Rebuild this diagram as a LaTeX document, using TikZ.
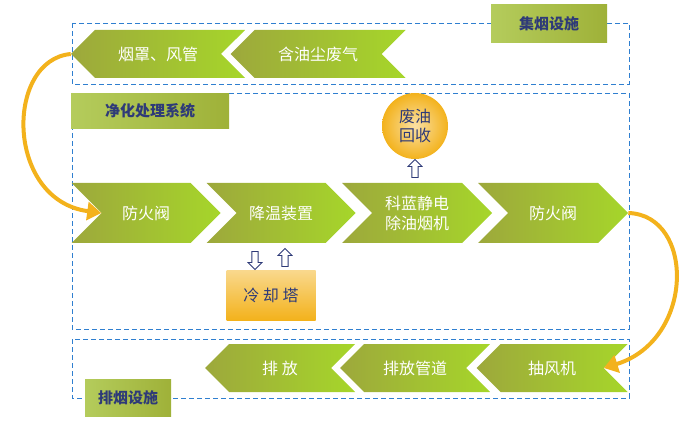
\documentclass[tikz,border=0pt]{standalone}
\usepackage{fontspec}
\setmainfont{Noto Sans CJK SC}
\usetikzlibrary{shapes.symbols,shapes.arrows,arrows.meta}
\definecolor{olive}{HTML}{9DA83C}
\definecolor{lime}{HTML}{A6D62A}
\definecolor{frame}{HTML}{2F7FD0}
\definecolor{ink}{HTML}{2E3A78}
\definecolor{gold}{HTML}{F3B21C}
\begin{document}
\begin{tikzpicture}[x=1pt,y=-1pt,
    stage/.style={signal,draw=none,minimum height=48pt,inner sep=0pt,
      font=\fontsize{16}{20}\selectfont,text=white,left color=olive,right color=lime},
    stageR/.style={stage,signal to=east,signal from=west},
    stageL/.style={stage,signal to=west,signal from=east},
    tag/.style={draw=none,font=\fontsize{15}{18}\selectfont\bfseries,text=ink,
      left color=lime!50!olive!80!white,right color=olive!80!lime,inner sep=0pt},
    zone/.style={draw=frame,thick,dash pattern=on 5pt off 3pt},
    hollow/.style={single arrow,draw=ink,thick,fill=white,minimum height=18pt,
      minimum width=14pt,single arrow head extend=3pt,inner sep=2pt}]
\useasboundingbox (0,0) rectangle (700,443);

% Zones
\draw[zone] (72,23) rectangle (629,84);
\draw[zone] (72,93) rectangle (629,329);
\draw[zone] (72,339) rectangle (629,398);

% Zone tags
\node[tag,minimum width=116pt,minimum height=38pt] (t1) at (549,24) {集烟设施};
\node[tag,minimum width=158pt,minimum height=35pt] (t2) at (150,111) {净化处理系统};
\node[tag,minimum width=86pt,minimum height=37pt] (t3) at (128,398) {排烟设施};

% Collecting
\node[stageL,minimum width=174pt] (hood) at (158,54) {烟罩、风管};
\node[stageL,minimum width=175pt] (gas) at (318,54) {含油尘废气};

% Purifying
\node[stageR,minimum width=149pt,minimum height=60pt] (v1) at (146,213) {防火阀};
\node[stageR,minimum width=149pt,minimum height=60pt] (cool) at (281,213) {降温装置};
\node[stageR,minimum width=150pt,minimum height=60pt,align=center] (esp) at (417,213) {科蓝静电\\除油烟机};
\node[stageR,minimum width=150pt,minimum height=60pt] (v2) at (553,213) {防火阀};
\node[circle,minimum size=66pt,inner sep=0pt,align=center,
  font=\fontsize{16}{19}\selectfont,text=ink,
  inner color=gold!40,outer color=gold] (oil) at (415,126) {废油\\回收};
\node[minimum width=89pt,minimum height=50pt,font=\fontsize{16}{20}\selectfont,text=ink,
  top color=gold!50,bottom color=gold] (tower) at (271,295) {冷\ 却\ 塔};

% Exhaust
\node[stageL,minimum width=150pt] (out) at (280,368) {排\ 放};
\node[stageL,minimum width=150pt] (pipe) at (415,368) {排放管道};
\node[stageL,minimum width=151pt] (fan) at (552,368) {抽风机};

% Hollow arrows
\node[hollow,shape border rotate=90] (up1) at (415,170) {};
\node[hollow,shape border rotate=270] (dn) at (255,259) {};
\node[hollow,shape border rotate=90] (up2) at (285,259) {};

% Yellow sweeps
\draw[gold,line width=4pt,-{Triangle[length=14pt,width=18pt]}]
  (hood.west) .. controls (5,60) and (5,200) .. (v1.west);
\draw[gold,line width=4pt,-{Triangle[length=14pt,width=18pt]}]
  (v2.east) .. controls (695,215) and (695,340) .. (fan.east);
\end{tikzpicture}
\end{document}
